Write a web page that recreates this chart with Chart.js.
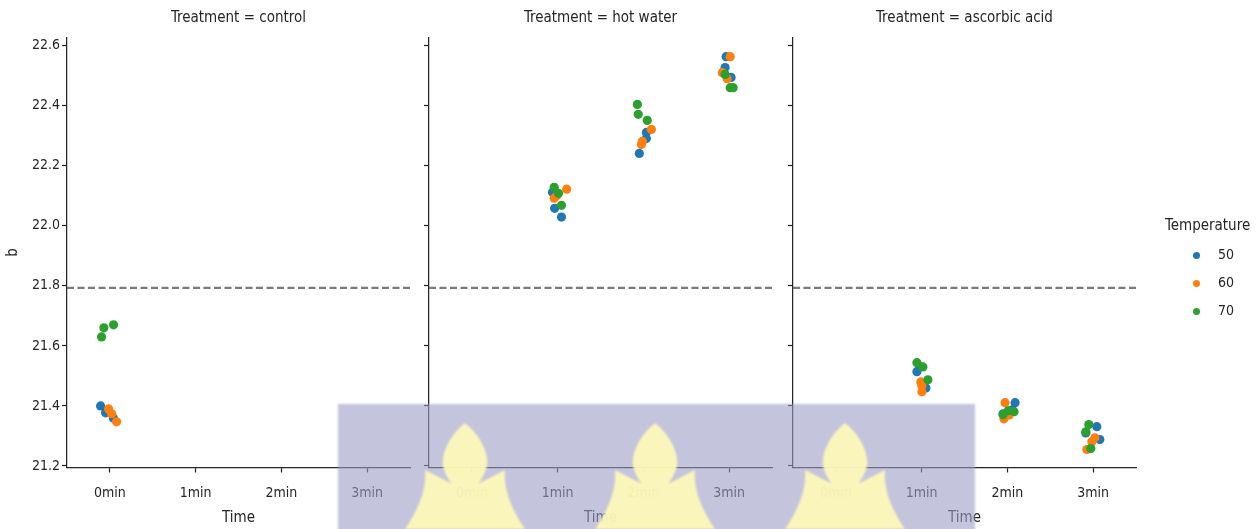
<!DOCTYPE html>
<html>
<head>
<meta charset="utf-8">
<script src="https://cdn.jsdelivr.net/npm/chart.js@4.4.1/dist/chart.umd.min.js"></script>
<style>
  html, body { margin: 0; padding: 0; background: #fff; }
  body { width: 1259px; height: 529px; position: relative; overflow: hidden;
         font-family: "DejaVu Sans Condensed", "DejaVu Sans", sans-serif; color: #262626; }
  .panel { position: absolute; top: 0; height: 529px; }
  #legend { position: absolute; left: 0; top: 0; width: 1259px; height: 529px; }
  #legend .ttl { position: absolute; left: 1165px; top: 216px; font-size: 15px; line-height: 18px; white-space: nowrap; }
  #legend .dot { position: absolute; width: 7px; height: 7px; border-radius: 50%; left: 1193px; }
  #legend .lab { position: absolute; left: 1218px; font-size: 14px; line-height: 17px; white-space: nowrap; }
  #mark { position: absolute; left: 0; top: 0; pointer-events: none; }
</style>
</head>
<body>
<canvas id="pControl" class="panel" style="left:0px" width="420" height="529"></canvas>
<canvas id="pHot" class="panel" style="left:410px" width="370" height="529"></canvas>
<canvas id="pAsc" class="panel" style="left:775px" width="370" height="529"></canvas>
<div id="legend"></div>
<svg id="mark" width="1259" height="529" viewBox="0 0 1259 529"></svg>
<script>
// ---- categories and labels ----
const timeLabels = ['0min', '1min', '2min', '3min'];
const temperatures = ['50', '60', '70'];
const yTicks = [21.2, 21.4, 21.6, 21.8, 22.0, 22.2, 22.4, 22.6];
const referenceB = 21.793;

// ---- b values: one array per treatment / temperature, grouped by time index ----
// control (only 0min measured)
const controlTime = [0];
const control50 = [[21.40, 21.377, 21.36]];
const control60 = [[21.39, 21.374, 21.347]];
const control70 = [[21.63, 21.66, 21.67]];
const control50Dx = [[-0.108, -0.05, 0.04]];
const control60Dx = [[-0.015, 0.02, 0.078]];
const control70Dx = [[-0.097, -0.07, 0.043]];

// hot water
const hotTime = [1, 2, 3];
const hot50 = [[22.112, 22.058, 22.029], [22.311, 22.291, 22.241], [22.563, 22.527, 22.494]];
const hot60 = [[22.122, 22.10, 22.092], [22.321, 22.281, 22.271], [22.563, 22.51, 22.49]];
const hot70 = [[22.128, 22.108, 22.068], [22.404, 22.371, 22.351], [22.504, 22.46, 22.46]];
const hot50Dx = [[-0.06, -0.035, 0.045], [0.035, 0.035, -0.047], [-0.035, -0.047, 0.023]];
const hot60Dx = [[0.105, -0.01, -0.04], [0.093, -0.012, -0.023], [0.012, -0.08, -0.023]];
const hot70Dx = [[-0.04, 0.01, 0.045], [-0.07, -0.06, 0.045], [-0.047, 0.012, 0.047]];

// ascorbic acid
const ascTime = [1, 2, 3];
const asc50 = [[21.53, 21.514, 21.46], [21.411, 21.387, 21.374], [21.331, 21.31, 21.288]];
const asc60 = [[21.48, 21.467, 21.447], [21.411, 21.37, 21.357], [21.294, 21.281, 21.255]];
const asc70 = [[21.544, 21.53, 21.487], [21.384, 21.381, 21.371], [21.338, 21.314, 21.258]];
const asc50Dx = [[-0.02, -0.055, 0.05], [0.09, 0.055, -0.05], [0.043, -0.085, 0.078]];
const asc60Dx = [[-0.01, 0.003, 0.003], [-0.027, 0.02, -0.04], [0.02, -0.015, -0.073]];
const asc70Dx = [[-0.055, 0.015, 0.073], [0.01, 0.078, -0.05], [-0.05, -0.085, -0.027]];

const palette = ['#1f77b4', '#ff7f0e', '#2ca02c'];
const ink = '#262626';
const fontFamily = '"DejaVu Sans Condensed", "DejaVu Sans", sans-serif';

// turn grouped values + jitter offsets into scatter points
function toPoints(times, values, offsets) {
  const pts = [];
  times.forEach((t, i) => {
    values[i].forEach((v, j) => pts.push({ x: t + offsets[i][j], y: v }));
  });
  return pts;
}

// facet title centred over the plotting area (not the whole canvas)
const facetTitle = {
  id: 'facetTitle',
  afterDraw(chart, args, o) {
    const { ctx, chartArea } = chart;
    ctx.save();
    ctx.fillStyle = ink;
    ctx.font = '15px ' + fontFamily;
    ctx.textAlign = 'center';
    ctx.textBaseline = 'middle';
    ctx.fillText(o.text, (chartArea.left + chartArea.right) / 2, 18.5);
    ctx.restore();
  }
};

function buildPanel(canvasId, title, times, series, offsets, opts) {
  const datasets = series.map((vals, k) => ({
    type: 'scatter',
    label: temperatures[k],
    data: toPoints(times, vals, offsets[k]),
    backgroundColor: palette[k],
    borderWidth: 0,
    pointRadius: 4.6,
    pointHoverRadius: 4.6,
    order: 3 - k
  }));
  datasets.push({
    type: 'line',
    label: 'ref',
    data: [{ x: -0.5, y: referenceB }, { x: 3.5, y: referenceB }],
    borderColor: '#7a7a7a',
    borderWidth: 2.2,
    borderDash: [7, 3.5],
    pointRadius: 0,
    order: 10
  });

  return new Chart(document.getElementById(canvasId), {
    data: { datasets },
    plugins: [facetTitle],
    options: {
      responsive: false,
      animation: false,
      events: [],
      layout: { padding: { left: 0, right: opts.padRight, top: 37.5, bottom: 0 } },
      plugins: {
        legend: { display: false },
        tooltip: { enabled: false },
        title: { display: false },
        facetTitle: { text: title }
      },
      scales: {
        x: {
          type: 'linear',
          min: -0.5,
          max: 3.5,
          afterBuildTicks: (s) => { s.ticks = timeLabels.map((_, i) => ({ value: i })); },
          afterFit: (s) => { s.height = 61.5; },
          ticks: {
            color: ink,
            font: { family: fontFamily, size: 14 },
            padding: 12,
            callback: (v) => timeLabels[v]
          },
          grid: { display: true, drawOnChartArea: false, drawTicks: true, tickLength: 5, tickWidth: 1.25, tickColor: ink },
          border: { display: true, color: ink, width: 1.25 },
          title: {
            display: true,
            text: 'Time',
            color: ink,
            font: { family: fontFamily, size: 15, lineHeight: 1.2 },
            padding: { top: 4, bottom: 2 }
          }
        },
        y: {
          type: 'linear',
          min: 21.195,
          max: 22.627,
          afterBuildTicks: (s) => { s.ticks = yTicks.map(v => ({ value: v })); },
          afterFit: (s) => { s.width = opts.yWidth; },
          ticks: {
            display: opts.showY,
            color: ink,
            font: { family: fontFamily, size: 14 },
            padding: 2,
            callback: (v) => v.toFixed(1)
          },
          grid: { display: true, drawOnChartArea: false, drawTicks: true, tickLength: 5, tickWidth: 1.25, tickColor: ink },
          border: { display: true, color: ink, width: 1.25 },
          title: {
            display: opts.showY,
            text: 'b',
            color: ink,
            font: { family: fontFamily, size: 15, lineHeight: 1.2 },
            padding: { top: 4, bottom: 0 }
          }
        }
      }
    }
  });
}

buildPanel('pControl', 'Treatment = control', controlTime,
  [control50, control60, control70], [control50Dx, control60Dx, control70Dx],
  { yWidth: 67, padRight: 10, showY: true });
buildPanel('pHot', 'Treatment = hot water', hotTime,
  [hot50, hot60, hot70], [hot50Dx, hot60Dx, hot70Dx],
  { yWidth: 19, padRight: 8, showY: false });
buildPanel('pAsc', 'Treatment = ascorbic acid', ascTime,
  [asc50, asc60, asc70], [asc50Dx, asc60Dx, asc70Dx],
  { yWidth: 18, padRight: 9, showY: false });

// legend for the hue (temperature)
const legend = document.getElementById('legend');
legend.innerHTML = '<div class="ttl">Temperature</div>' +
  temperatures.map((t, k) => {
    const cy = 255 + k * 28;
    return '<div class="dot" style="top:' + (cy - 3.5) + 'px;background:' + palette[k] + '"></div>' +
           '<div class="lab" style="top:' + (cy - 9) + 'px">' + t + '</div>';
  }).join('');

// logo watermark laid over the lower middle of the figure
const svgNS = 'http://www.w3.org/2000/svg';
const mark = document.getElementById('mark');
const defs = document.createElementNS(svgNS, 'defs');
defs.innerHTML = '<filter id="soft"><feGaussianBlur stdDeviation="1.2"/></filter>';
mark.appendChild(defs);
const rect = document.createElementNS(svgNS, 'rect');
rect.setAttribute('x', 338); rect.setAttribute('y', 404);
rect.setAttribute('width', 637); rect.setAttribute('height', 130);
rect.setAttribute('fill', '#9d9dc4'); rect.setAttribute('fill-opacity', '0.6');
rect.setAttribute('filter', 'url(#soft)');
mark.appendChild(rect);
[465, 655, 845].forEach(cx => {
  const p = document.createElementNS(svgNS, 'path');
  const d = 'M' + cx + ',423 ' +
    'C' + (cx + 14) + ',434 ' + (cx + 24) + ',452 ' + (cx + 22) + ',466 ' +
    'C' + (cx + 20) + ',474 ' + (cx + 16) + ',480 ' + (cx + 13) + ',484 ' +
    'L' + (cx + 40) + ',470 ' +
    'C' + (cx + 38) + ',490 ' + (cx + 48) + ',512 ' + (cx + 60) + ',529 ' +
    'L' + (cx - 60) + ',529 ' +
    'C' + (cx - 48) + ',512 ' + (cx - 38) + ',490 ' + (cx - 40) + ',470 ' +
    'L' + (cx - 13) + ',484 ' +
    'C' + (cx - 16) + ',480 ' + (cx - 20) + ',474 ' + (cx - 22) + ',466 ' +
    'C' + (cx - 24) + ',452 ' + (cx - 14) + ',434 ' + cx + ',423 Z';
  p.setAttribute('d', d);
  p.setAttribute('fill', '#fffbb8');
  p.setAttribute('fill-opacity', '0.92');
  p.setAttribute('filter', 'url(#soft)');
  mark.appendChild(p);
});
</script>
</body>
</html>
